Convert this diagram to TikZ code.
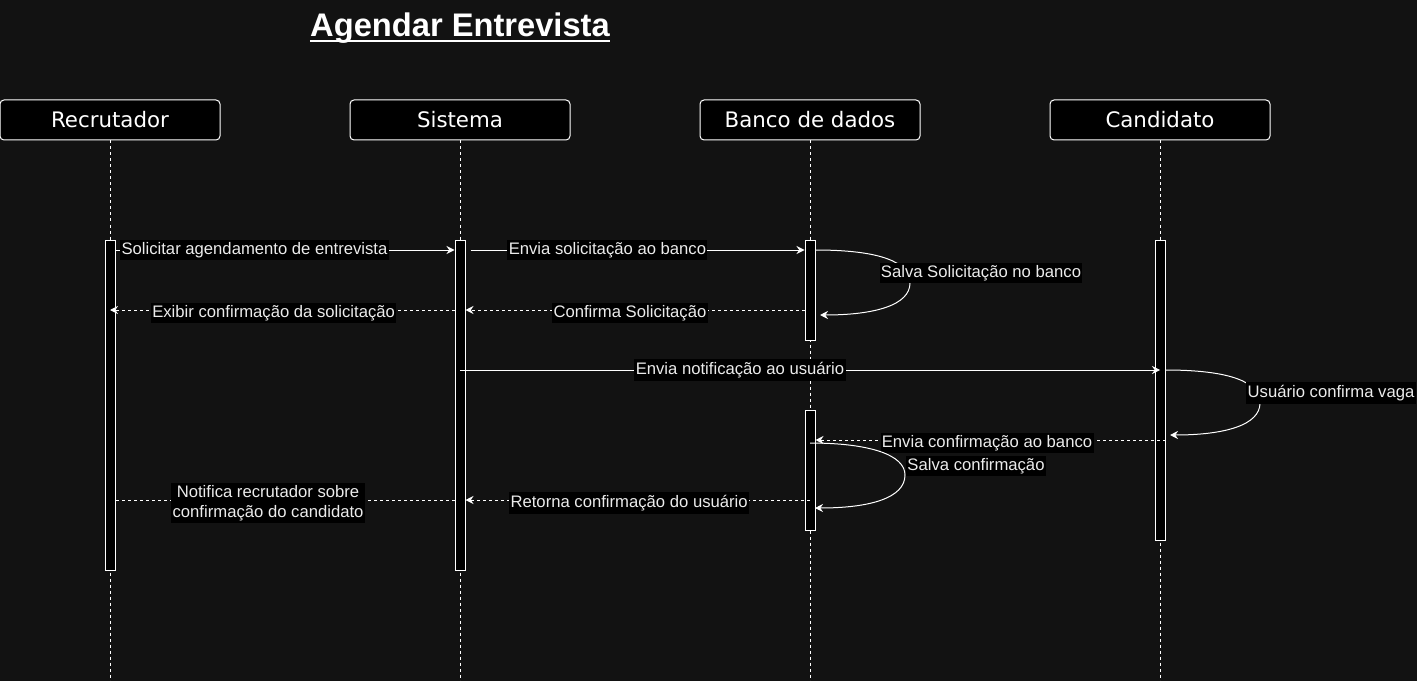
\documentclass[tikz,border=0pt]{standalone}
\usepackage{fontspec}
\setmainfont{Liberation Sans}
\newfontfamily\headfont{DejaVu Sans}
\usetikzlibrary{arrows.meta}
\definecolor{bg}{RGB}{18,18,18}
\definecolor{txt}{RGB}{235,235,235}
\begin{document}
\begin{tikzpicture}[x=0.75pt,y=-0.75pt]
\tikzstyle{every node}+=[inner sep=0pt]
\tikzstyle{head}=[draw=white,fill=black,rounded corners=3pt,minimum width=165pt,minimum height=30pt,line width=0.75pt,text=white,font=\headfont\fontsize{16}{19}\selectfont]
\tikzstyle{bar}=[draw=white,fill=black,minimum width=7.5pt,line width=0.75pt]
\tikzstyle{life}=[white,line width=0.75pt,dash pattern=on 2.25pt off 2.25pt]
\tikzstyle{msg}=[white,line width=0.75pt,-{Stealth[length=6pt,width=6pt,inset=2pt]}]
\tikzstyle{ret}=[msg,dash pattern=on 2.25pt off 2.25pt]
\tikzstyle{lbl}=[fill=black,text=txt,inner xsep=1pt,inner ysep=2pt,font=\fontsize{12.5}{15}\selectfont]
\tikzstyle{rlbl}=[lbl,yshift=-2.25pt]
\fill[bg] (0,0) rectangle (1417,681);
\useasboundingbox (0,0) rectangle (1417,681);
\node[anchor=base,text=white,font=\bfseries\fontsize{24.5}{28}\selectfont] (title) at (460,37) {Agendar Entrevista};
\draw[white,line width=1.5pt] ([yshift=-3pt]title.base west) -- ([yshift=-3pt]title.base east);
\node[head] (rec) at (110,120) {Recrutador};
\node[head] (sys) at (460,120) {Sistema};
\node[head] (db) at (810,120) {Banco de dados};
\node[head] (can) at (1160,120) {Candidato};
\coordinate (bot) at (0,681);
\draw[life] (rec.south) -- (rec.south |- bot);
\draw[life] (sys.south) -- (sys.south |- bot);
\draw[life] (db.south) -- (db.south |- bot);
\draw[life] (can.south) -- (can.south |- bot);
\node[bar,minimum height=247.5pt] (recA) at (110,405) {};
\node[bar,minimum height=247.5pt] (sysA) at (460,405) {};
\node[bar,minimum height=75pt] (dbA) at (810,290) {};
\node[bar,minimum height=90pt] (dbB) at (810,470) {};
\node[bar,minimum height=225pt] (canA) at (1160,390) {};
\coordinate (m1) at (0,250);
\coordinate (m2) at (0,310);
\coordinate (m3) at (0,370);
\coordinate (m5) at (0,440);
\coordinate (m6) at (0,500);
\coordinate (r1) at (820,315);
\coordinate (r2) at (1170,435);
\coordinate (s3) at (810,443);
\coordinate (r3) at (815,508);
\draw[msg] (recA.east |- m1) -- (sysA.west |- m1) node[lbl,pos=0.41] (l1) {Solicitar agendamento de entrevista};
\draw[msg] (sysA.east |- m1) ++(5,0) -- (dbA.west |- m1) node[lbl,pos=0.41] (l2) {Envia solicitação ao banco};
\draw[msg] (dbA.east |- m1) .. controls (880,250) and (910,262) .. (910,283) .. controls (910,305) and (875,315) .. (r1);
\node[lbl] (l3) at (981,273) {Salva Solicitação no banco};
\draw[ret] (dbA.west |- m2) -- (sysA.east |- m2) node[rlbl,pos=0.515] (l4) {Confirma Solicitação};
\draw[ret] (sysA.west |- m2) -- (recA |- m2) node[rlbl,pos=0.525] (l5) {Exibir confirmação da solicitação};
\draw[msg] (sysA |- m3) -- (canA |- m3) node[lbl,pos=0.4] (l6) {Envia notificação ao usuário};
\draw[msg] (canA.east |- m3) .. controls (1230,370) and (1260,382) .. (1260,403) .. controls (1260,425) and (1225,435) .. (r2);
\node[lbl] (l7) at (1331,393) {Usuário confirma vaga};
\draw[ret] (canA.east |- m5) -- (dbB.east |- m5) node[rlbl,pos=0.51] (l8) {Envia confirmação ao banco};
\draw[msg] (s3) .. controls (870,443) and (905,455) .. (905,475) .. controls (905,498) and (870,508) .. (r3);
\node[lbl] (l9) at (976,466) {Salva confirmação};
\draw[ret] (dbB |- m6) -- (sysA.east |- m6) node[rlbl,pos=0.525] (l10) {Retorna confirmação do usuário};
\draw[ret,-] (sysA.west |- m6) -- (recA.east |- m6) node[rlbl,pos=0.55,align=center] (l11) {Notifica recrutador sobre \\ confirmação do candidato};
\end{tikzpicture}
\end{document}
